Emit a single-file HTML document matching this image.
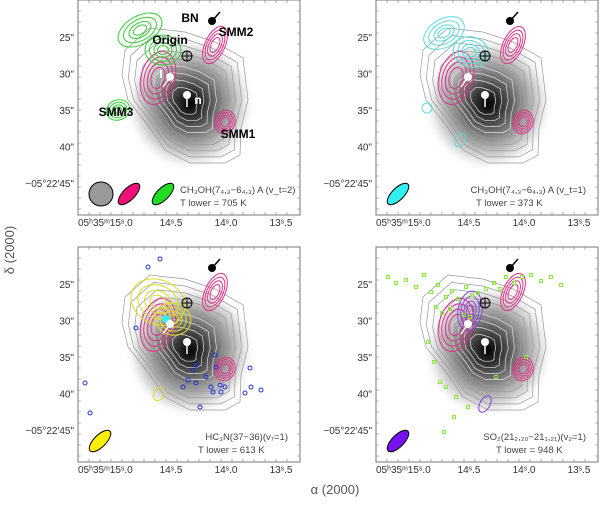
<!DOCTYPE html>
<html><head><meta charset="utf-8"><style>
body{margin:0;background:#fff;width:600px;height:502px;overflow:hidden;font-family:"Liberation Sans",sans-serif}
svg text{font-family:"Liberation Sans",sans-serif}
</style></head><body>
<svg id="s" width="600" height="502" xmlns="http://www.w3.org/2000/svg">
<defs>
<radialGradient id="g" cx="0.5" cy="0.5" r="0.5">
<stop offset="0" stop-color="#000"/><stop offset="0.2" stop-color="#333"/><stop offset="0.5" stop-color="#8a8a8a"/><stop offset="0.8" stop-color="#ddd"/><stop offset="1" stop-color="#fff" stop-opacity="0"/></radialGradient>
</defs>
<text x="14" y="250" font-size="13" fill="#555" transform="rotate(-90 14 250)" text-anchor="middle">δ (2000)</text>
<text x="335" y="494" font-size="13" fill="#555" text-anchor="middle">α (2000)</text>
</svg>
<script>
const yTicks=['25"','30"','35"','40"','−05°22′45"'];
const xTicks=['05ʰ35ᵐ15ˢ.0','14ˢ.5','14ˢ.0','13ˢ.5'];
const blueX=[70,82,58,137,138,118,115,110,118,128,105,133,142,147,143,135,167,172,173,183,122,7,12];
const blueY=[20,12,81,108,120,118,123,133,136,130,140,140,138,140,145,145,146,121,140,143,160,136,166];
const greenX=[12,20,30,40,48,55,62,70,76,82,90,96,102,110,118,124,130,138,146,155,165,175,185,60,66,74,88,94,52,58,64,70,80,120,92,78,68,150];
const greenY=[30,36,33,40,28,45,38,50,44,52,40,48,46,42,36,42,30,36,30,28,34,30,38,60,66,62,68,70,95,115,135,140,150,130,160,170,185,110];
const panels=[
 {name:'ch3oh-vt2',x:78,y:0,l1:'CH₃OH(7₄,₃−6₄,₃) A (v_t=2)',l2:'T lower = 705 K',beam:['#999','#ee1177','#22dd22'],labels:true},
 {name:'ch3oh-vt1',x:376,y:0,l1:'CH₃OH(7₄,₃−6₄,₃) A (v_t=1)',l2:'T lower = 373 K',beam:['#33eeee'],labels:false},
 {name:'hc3n',x:78,y:247,l1:'HC₃N(37−36)(v₇=1)',l2:'T lower = 613 K',beam:['#ffee00'],labels:false},
 {name:'so2',x:376,y:247,l1:'SO₂(21₂,₂₀−21₁,₂₁)(v₂=1)',l2:'T lower = 948 K',beam:['#7711ee'],labels:false}];
const outer=[[47,50],[72,28],[107,32],[137,42],[165,58],[170,100],[163,128],[162,155],[147,163],[112,163],[87,150],[72,128],[50,100],[44,75]];
const cx=107,cy=102;
const S=document.getElementById('s');const NS='http://www.w3.org/2000/svg';
function mk(t,a,p){const e=document.createElementNS(NS,t);for(const k in a)e.setAttribute(k,a[k]);(p||S).appendChild(e);return e;}
panels.forEach(P=>{
 const g=mk('g',{transform:`translate(${P.x},${P.y})`});
 
 
 mk('ellipse',{cx:112,cy:104,rx:66,ry:68,fill:'url(#g)'},g);
 [1,.9,.8,.7,.6,.5,.4,.3,.2].forEach(f=>{
  const d=outer.map((p,i)=>(i?'L':'M')+(cx+(p[0]-cx)*f)+','+(cy+(p[1]-cy)*f)).join('')+'Z';
  mk('path',{d,fill:'none',stroke:f<.6?'#ddd':'#999','stroke-width':0.7},g);
 });
 [[80,78,17,27,15],[137,45,10,20,25],[147,122,10,12,20]].forEach(c=>{[1,.8,.6,.4].forEach(f=>mk('ellipse',{cx:c[0],cy:c[1],rx:c[2]*f,ry:c[3]*f,transform:`rotate(${c[4]} ${c[0]} ${c[1]})`,fill:'none',stroke:'#dd3388','stroke-width':1},g));});
 const col=P.name==='ch3oh-vt2'?'#33cc33':P.name==='ch3oh-vt1'?'#55dddd':P.name==='hc3n'?'#dddd22':'#8844dd';
 const cs=P.name==='ch3oh-vt2'?[[62,30,24,14,-30],[85,50,18,15,0],[40,110,12,10,-20]]:P.name==='ch3oh-vt1'?[[68,33,22,14,-30],[95,52,18,15,20]]:P.name==='hc3n'?[[80,55,28,22,25],[95,72,18,16,20]]:[[94,64,12,20,10]];
 cs.forEach(c=>{[1,.75,.5,.3].forEach(f=>mk('ellipse',{cx:c[0],cy:c[1],rx:c[2]*f,ry:c[3]*f,transform:`rotate(${c[4]} ${c[0]} ${c[1]})`,fill:'none',stroke:col,'stroke-width':1},g));});
 const small=P.name==='ch3oh-vt1'?[[51,108,5,5],[84,140,5,7]]:P.name==='hc3n'?[[81,147,5,7]]:P.name==='so2'?[[109,157,5,9]]:[];
 small.forEach(c=>mk('ellipse',{cx:c[0],cy:c[1],rx:c[2],ry:c[3],transform:`rotate(30 ${c[0]} ${c[1]})`,fill:'none',stroke:col,'stroke-width':1},g));
 if(P.name==='hc3n'){blueX.forEach((v,i)=>{const c=mk('circle',{cx:v,cy:blueY[i],r:2,fill:'none',stroke:'#2233cc','stroke-width':1},g);
  
  });
  mk('circle',{cx:88,cy:72,r:4,fill:'#33eeee'},g);}
 if(P.name==='so2'){greenX.forEach((v,i)=>{const c=mk('rect',{x:v-1.5,y:greenY[i]-1.5,width:3,height:3,fill:'none',stroke:'#88ee33','stroke-width':1},g);
  
  });}
 mk('rect',{x:0,y:0,width:222,height:215,fill:'none',stroke:'#777','stroke-width':1},g);
 for(let i=0;i<20;i++){const yy=i*11;mk('path',{d:`M0,${yy}h3M222,${yy}h-3`,stroke:'#777','stroke-width':.6},g);}
 for(let i=0;i<20;i++){const xx=i*11;mk('path',{d:`M${xx},215v-3M${xx},0v3`,stroke:'#777','stroke-width':.6},g);}
 yTicks.forEach((t,i)=>{const y=37+i*36.5;const e=mk('text',{x:-4,y:y+4,'font-size':10,fill:'#333','text-anchor':'end'},g);e.textContent=t;
  
  });
 xTicks.forEach((t,i)=>{const x=i?38+i*55:0;const e=mk('text',{x,y:226,'font-size':10,fill:'#333','text-anchor':i?'middle':'start'},g);e.textContent=t;
  
  });
 mk('circle',{cx:134,cy:21,r:4,fill:'#000'},g);mk('line',{x1:134,y1:21,x2:142,y2:12,stroke:'#000','stroke-width':1.5},g);
 mk('circle',{cx:109,cy:56,r:5,fill:'none',stroke:'#000'},g);mk('path',{d:'M104,56H114M109,51V61',stroke:'#000'},g);
 mk('circle',{cx:92,cy:77,r:4,fill:'#fff'},g);mk('line',{x1:92,y1:77,x2:85,y2:87,stroke:'#fff','stroke-width':1.5},g);
 mk('circle',{cx:109,cy:95,r:4,fill:'#fff'},g);mk('line',{x1:109,y1:95,x2:109,y2:107,stroke:'#fff','stroke-width':1.5},g);
 if(P.labels){[['BN',112,22,'#000'],['Origin',92,44,'#000'],['SMM2',158,36,'#000'],['SMM3',38,116,'#000'],['SMM1',160,138,'#000'],['I',83,78,'#fff'],['n',120,104,'#fff']].forEach(l=>{const e=mk('text',{x:l[1],y:l[2],'font-size':12,'font-weight':'bold',fill:l[3],'text-anchor':'middle'},g);e.textContent=l[0];
  
  });}
 P.beam.forEach((c,i)=>{if(c==='#999')mk('circle',{cx:23,cy:194,r:12,fill:c,stroke:'#000'},g);else{const bx=P.labels?51+(i-1)*34:22;mk('ellipse',{cx:bx,cy:194,rx:14,ry:6,transform:`rotate(-45 ${bx} 194)`,fill:c,stroke:'#000'},g);}});
 const t1=mk('text',{x:P.labels?102:210,y:193,'font-size':9.5,fill:'#444','text-anchor':P.labels?'start':'end'},g);t1.textContent=P.l1;
 
 
 const t2=mk('text',{x:P.labels?102:P.name==='ch3oh-vt1'?100:120,y:206,'font-size':9.5,fill:'#444'},g);t2.textContent=P.l2;
 
 
});
</script>
</body></html>
